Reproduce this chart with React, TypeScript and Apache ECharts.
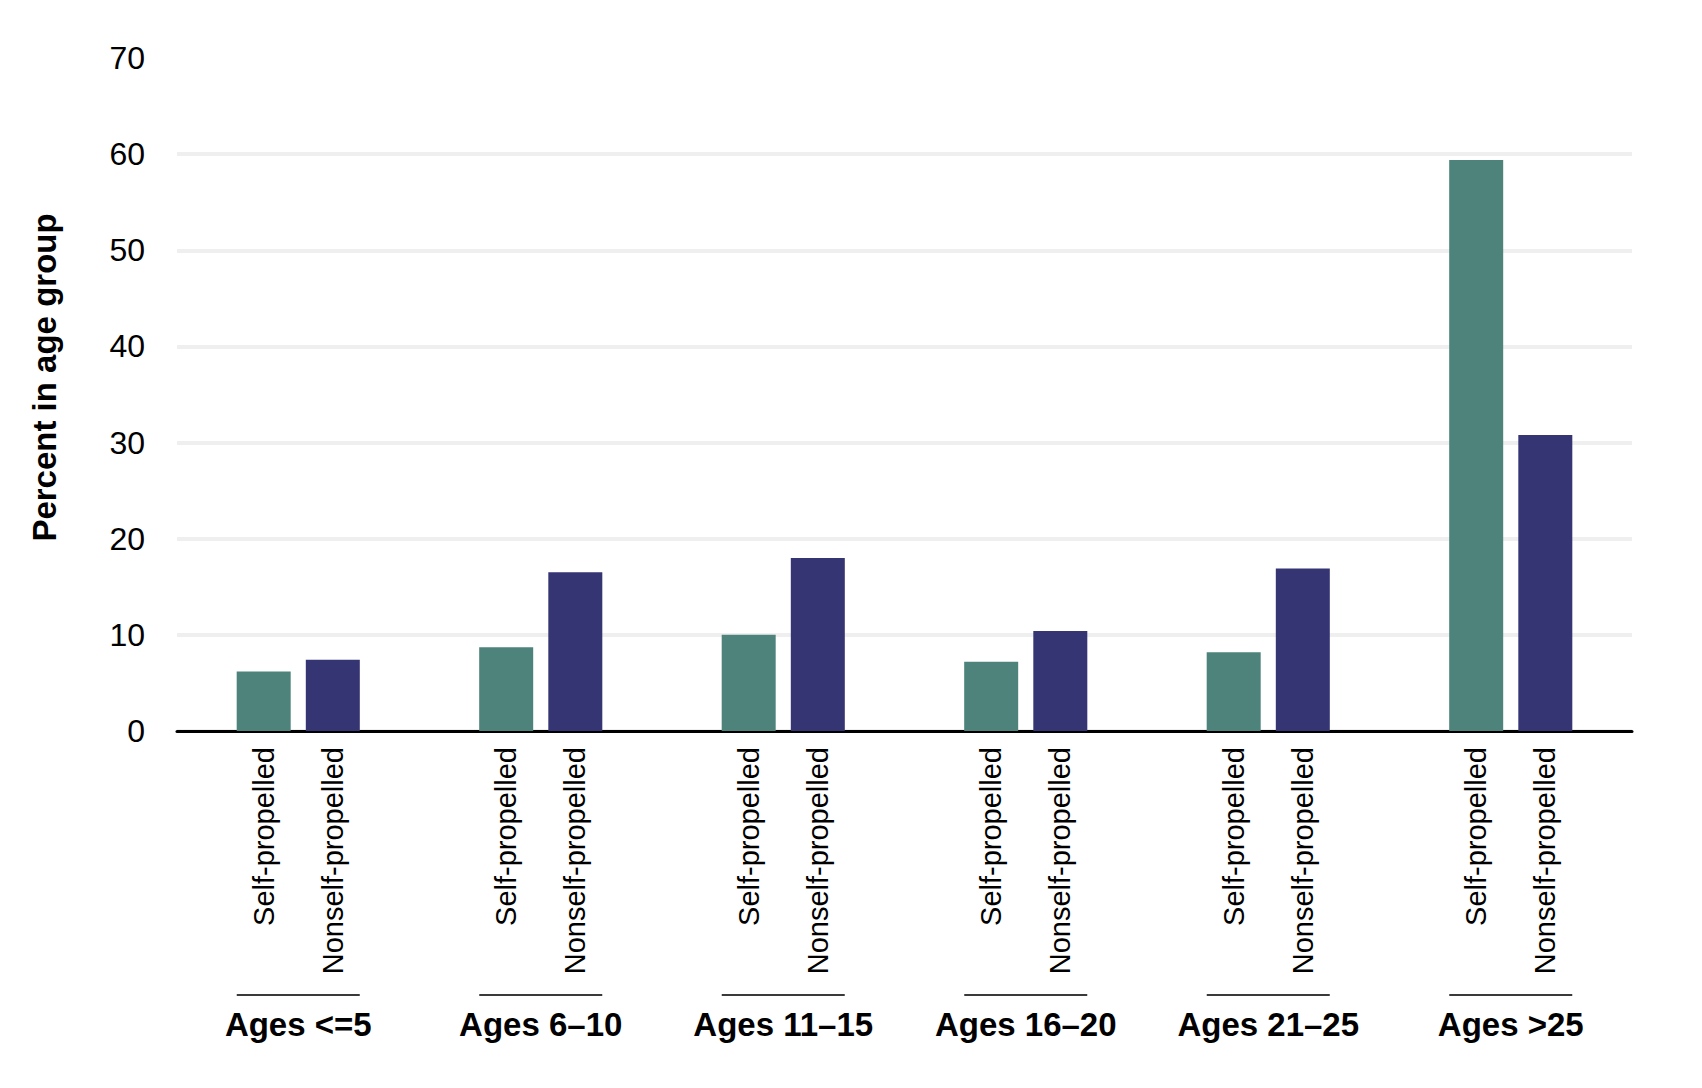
import { useEffect, useRef } from 'react';
import * as echarts from 'echarts';

// age groups on the x axis
const ageGroups = ['Ages <=5', 'Ages 6–10', 'Ages 11–15', 'Ages 16–20', 'Ages 21–25', 'Ages >25'];

// percent in age group
const selfPropelled = [6.2, 8.7, 10.0, 7.2, 8.2, 59.4];
const nonselfPropelled = [7.4, 16.5, 18.0, 10.4, 16.9, 30.8];

const seriesNames = ['Self-propelled', 'Nonself-propelled'];
const seriesColors = ['#4e837c', '#353574'];

const yMin = 0;
const yMax = 70;
const yStep = 10;

const FONT = '"Liberation Sans", Arial, Helvetica, sans-serif';

export default function App() {
  const chartRef = useRef<HTMLDivElement>(null);

  useEffect(() => {
    if (!chartRef.current) return;
    const chart = echarts.init(chartRef.current, undefined, { renderer: 'svg' });

    // per-bar name under each bar, read bottom to top
    const barLabel = {
      show: true,
      position: 'bottom',
      distance: 16,
      rotate: 90,
      align: 'right',
      verticalAlign: 'middle',
      fontFamily: FONT,
      fontSize: 29,
      color: '#000',
      formatter: (p: any) => p.seriesName
    };

    const option: any = {
      animation: false,
      backgroundColor: '#fff',
      grid: { left: 177, right: 70, top: 58, bottom: 357 },
      xAxis: {
        type: 'category',
        data: ageGroups,
        axisLine: { show: true, lineStyle: { color: '#000', width: 3 } },
        axisTick: { show: false },
        splitLine: { show: false },
        axisLabel: {
          interval: 0,
          margin: 263,
          formatter: (v: string) => `{line|}\n{name|${v}}`,
          rich: {
            line: { width: 123, height: 2, lineHeight: 2, backgroundColor: '#3a3a3a', align: 'center' },
            name: {
              fontFamily: FONT,
              fontSize: 33,
              fontWeight: 'bold',
              color: '#000',
              lineHeight: 56,
              align: 'center'
            }
          }
        }
      },
      yAxis: {
        type: 'value',
        min: yMin,
        max: yMax,
        interval: yStep,
        name: 'Percent in age group',
        nameLocation: 'middle',
        nameRotate: 90,
        nameGap: 116,
        nameTextStyle: {
          fontFamily: FONT,
          fontSize: 33,
          fontWeight: 'bold',
          color: '#000',
          padding: [0, 0, 0, 34]
        },
        axisLine: { show: false },
        axisTick: { show: false },
        axisLabel: { fontFamily: FONT, fontSize: 32, color: '#000', margin: 32 },
        splitLine: {
          show: true,
          showMaxLine: false,
          lineStyle: { color: '#efefef', width: 4 }
        }
      },
      series: [
        {
          name: seriesNames[0],
          type: 'bar',
          data: selfPropelled,
          barWidth: 54,
          barGap: '28%',
          itemStyle: { color: seriesColors[0] },
          label: barLabel
        },
        {
          name: seriesNames[1],
          type: 'bar',
          data: nonselfPropelled,
          barWidth: 54,
          barGap: '28%',
          itemStyle: { color: seriesColors[1] },
          label: barLabel
        }
      ]
    };

    chart.setOption(option);

    const handleResize = () => chart.resize();
    window.addEventListener('resize', handleResize);
    return () => {
      window.removeEventListener('resize', handleResize);
      chart.dispose();
    };
  }, []);

  return (
    <div
      ref={chartRef}
      style={{ position: 'fixed', left: 0, top: 0, width: 1702, height: 1088, background: '#fff' }}
    />
  );
}
